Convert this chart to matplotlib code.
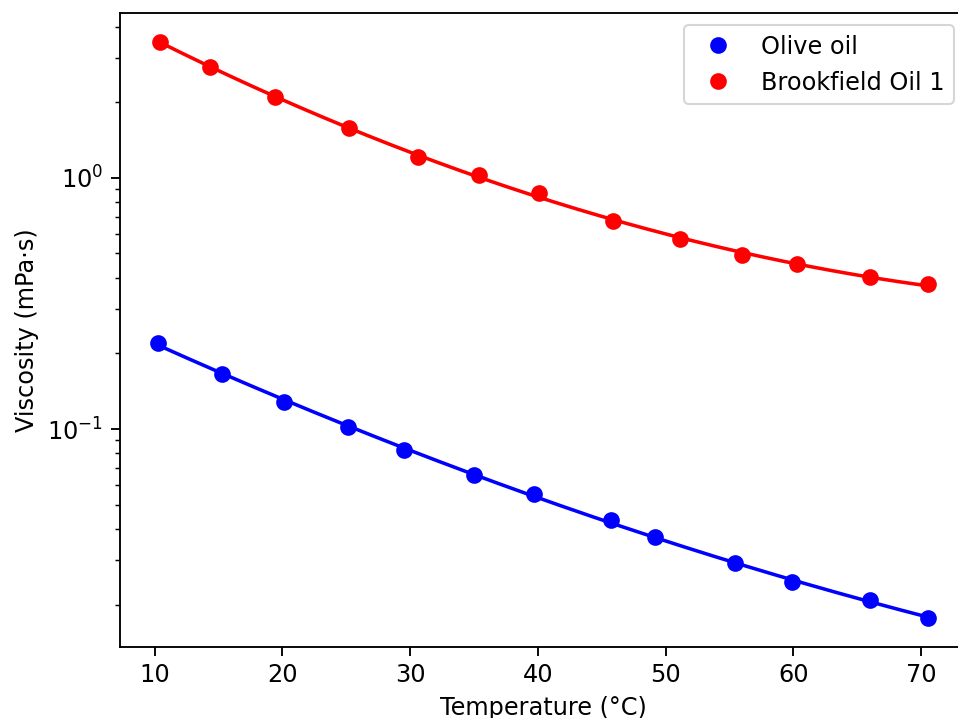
import matplotlib
matplotlib.use("Agg")
import matplotlib.pyplot as plt
import numpy as np

# Measured viscosities vs temperature
olive_temp = [10.3, 15.3, 20.1, 25.1, 29.5, 35.0, 39.7, 45.7, 49.2, 55.4, 59.9, 66.0, 70.5]
olive_visc = [0.220, 0.166, 0.1285, 0.102, 0.0827, 0.0655, 0.0550, 0.0435, 0.0370,
              0.0293, 0.0246, 0.0208, 0.0177]

brook_temp = [10.4, 14.3, 19.4, 25.2, 30.6, 35.4, 40.1, 45.9, 51.1, 56.0, 60.3, 66.0, 70.5]
brook_visc = [3.48, 2.77, 2.09, 1.58, 1.21, 1.03, 0.867, 0.674, 0.573, 0.491, 0.454,
              0.402, 0.3765]

plt.rcParams.update({
    "font.size": 11.5,
    "lines.linewidth": 1.7,
    "lines.markersize": 7,
    "axes.linewidth": 0.9,
    "xtick.major.size": 4.5,
    "ytick.major.size": 4.5,
    "ytick.minor.size": 2.6,
    "xtick.major.width": 0.9,
    "ytick.major.width": 0.9,
    "ytick.minor.width": 0.7,
})


def log_fit(t, v, deg=2, n=200):
    """Quadratic fit of log10(viscosity) vs temperature."""
    t = np.asarray(t)
    coef = np.polyfit(t, np.log10(v), deg)
    tt = np.linspace(t.min(), t.max(), n)
    return tt, 10 ** np.polyval(coef, tt)


fig = plt.figure(figsize=(958 / 150, 718 / 150), dpi=150)
ax = fig.add_axes([120 / 958, (718 - 646.7) / 718, (966 - 120) / 958, (646.7 - 13) / 718])

for t, v, color, label in [
    (olive_temp, olive_visc, "blue", "Olive oil"),
    (brook_temp, brook_visc, "red", "Brookfield Oil 1"),
]:
    ax.plot(t, v, "o", color=color, label=label)
    tt, vv = log_fit(t, v)
    ax.plot(tt, vv, "-", color=color)

ax.set_yscale("log")
ax.set_xlabel("Temperature (°C)")
ax.set_ylabel("Viscosity (mPa·s)")
ax.legend(loc="upper right")

fig.savefig("out.png", dpi=150)
